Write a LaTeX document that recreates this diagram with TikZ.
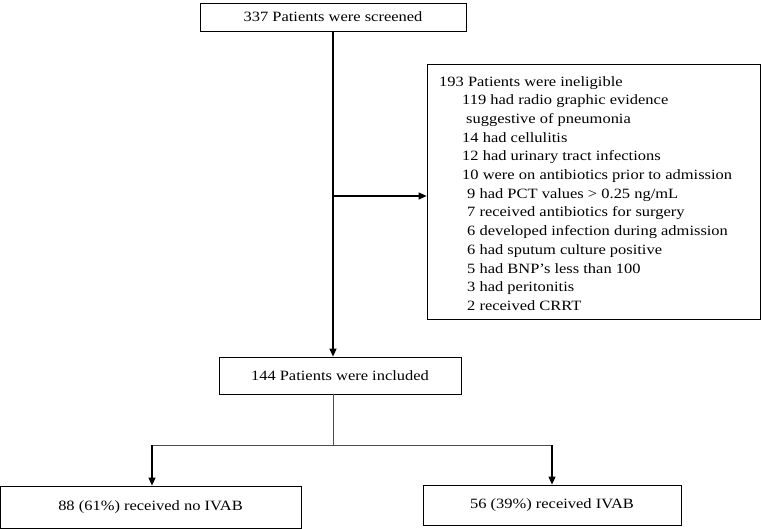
\documentclass[tikz,border=0pt]{standalone}
\usepackage{fontspec}
\setmainfont[FakeStretch=1.16]{Liberation Serif}
\usetikzlibrary{arrows.meta}
\begin{document}
\begin{tikzpicture}[x=1pt,y=-1pt,
  box/.style={draw=black, line width=0.8pt, inner sep=0pt, align=center,
    font=\fontsize{14.2}{18.7}\selectfont},
  arr/.style={draw=black, line width=1.2pt, -{Triangle[length=8pt,width=7pt]}},
  thinline/.style={draw=black!70, line width=0.7pt}]
\useasboundingbox (0,0) rectangle (761,529);
\node[box, minimum width=266pt, minimum height=28pt] (screen) at (333,17) {337 Patients were screened};
\node[box, minimum width=333pt, minimum height=255pt] (inel) at (593.5,191.5) {};
\node[anchor=north west, align=left, inner sep=0pt,
  font=\fontsize{14.2}{18.7}\selectfont] (ineltext) at (439,76) {%
193 Patients were ineligible\\
\hspace*{23pt}119 had radio graphic evidence\\
\hspace*{27pt}suggestive of pneumonia\\
\hspace*{23pt}14 had cellulitis\\
\hspace*{23pt}12 had urinary tract infections\\
\hspace*{23pt}10 were on antibiotics prior to admission\\
\hspace*{28pt}9 had PCT values > 0.25 ng/mL\\
\hspace*{28pt}7 received antibiotics for surgery\\
\hspace*{28pt}6 developed infection during admission\\
\hspace*{28pt}6 had sputum culture positive\\
\hspace*{28pt}5 had BNP’s less than 100\\
\hspace*{28pt}3 had peritonitis\\
\hspace*{28pt}2 received CRRT};
\node[box, minimum width=242pt, minimum height=37pt] (incl) at (340,375.5) {144 Patients were included};
\node[box, minimum width=301pt, minimum height=42pt] (left) at (150.5,507) {88 (61\%) received no IVAB};
\node[box, minimum width=258pt, minimum height=40pt] (right) at (552,505) {56 (39\%) received IVAB};
\coordinate (j1) at (333,196);
\coordinate (split) at (333,445);
\coordinate (lb) at (152,445);
\coordinate (rb) at (552,445);
\draw[arr] (screen.south) -- (screen.south |- incl.north);
\draw[arr] (j1) -- (j1 -| inel.west);
\draw[thinline] (split |- incl.south) -- (split);
\draw[thinline] (lb) -- (rb);
\draw[arr] (lb) -- (lb |- left.north);
\draw[arr] (rb) -- (rb |- right.north);
\end{tikzpicture}
\end{document}
